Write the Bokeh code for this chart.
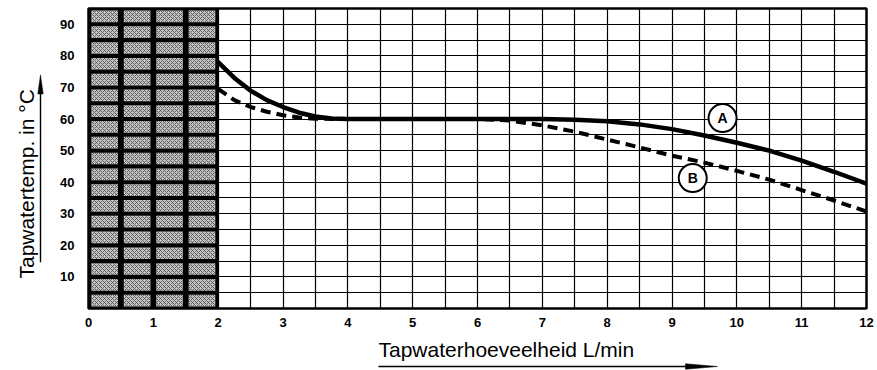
import numpy as np
from bokeh.plotting import figure
from bokeh.layouts import column, row
from bokeh.models import Range1d, FixedTicker, ColumnDataSource
from bokeh.core.properties import value
from bokeh.embed import file_html
from bokeh.resources import INLINE

# ---- data ----
x_ticks = list(range(0, 13))
y_ticks = [10, 20, 30, 40, 50, 60, 70, 80, 90]

flow_a = [2, 2.25, 2.5, 2.75, 3, 3.25, 3.5, 3.75, 4, 5, 6, 7, 7.5, 8, 8.5, 9, 9.5, 10, 10.5, 11, 11.5, 12]
temp_a = [78, 73, 69, 66, 63.8, 62, 60.8, 60.2, 60, 60, 60, 60, 59.8, 59.3, 58.3, 56.8, 54.8, 52.5, 50, 46.8, 43.3, 39.5]

flow_b = [2, 2.25, 2.5, 2.75, 3, 3.25, 3.5, 4, 5, 6, 6.5, 7, 7.5, 8, 8.5, 9, 9.5, 10, 10.5, 11, 11.5, 12]
temp_b = [69.5, 66, 63.8, 62.3, 61.2, 60.5, 60.1, 60, 60, 60, 59.5, 58, 56, 53.5, 51, 48.4, 46.2, 43.6, 40.8, 37.5, 34.2, 30.7]

curve_names = ["A", "B"]
label_x = [9.78, 9.32]
label_y = [60.3, 41.3]

shaded_max_flow = 2.0
x_title = "Tapwaterhoeveelheid L/min"
y_title = "Tapwatertemp. in °C"

FONT = "Liberation Sans"
LEFT_W, MAIN_W, MAIN_H, BOTTOM_H = 50, 827, 330, 40

# ---- main chart ----
p = figure(width=MAIN_W, height=MAIN_H, output_backend="svg", toolbar_location=None,
           x_range=Range1d(0, 12), y_range=Range1d(0, 95),
           min_border_left=38, min_border_right=11, min_border_top=8, min_border_bottom=22)
p.background_fill_color = "white"
p.border_fill_color = "white"
p.outline_line_color = "black"
p.outline_line_width = 2.5

p.xgrid.ticker = FixedTicker(ticks=list(np.arange(0, 12.01, 0.5)))
p.ygrid.ticker = FixedTicker(ticks=list(np.arange(0, 95.01, 5)))
for g in (p.xgrid, p.ygrid):
    g.grid_line_color = "black"
    g.grid_line_width = 1.2
    g.grid_line_alpha = 1.0

for ax in (p.xaxis, p.yaxis):
    ax.axis_line_color = None
    ax.major_tick_line_color = None
    ax.minor_tick_line_color = None
    ax.major_label_text_font = FONT
    ax.major_label_text_font_style = "bold"
    ax.major_label_text_font_size = "13px"
    ax.major_label_text_color = "black"
p.xaxis.ticker = FixedTicker(ticks=x_ticks)
p.yaxis.ticker = FixedTicker(ticks=y_ticks)
p.xaxis.major_label_standoff = 3
p.yaxis.major_label_standoff = 8

# shaded region
p.quad(left=0, right=shaded_max_flow, bottom=0, top=95, fill_color="black", line_color=None)
cols = np.arange(0, shaded_max_flow, 0.5)
rows = np.arange(0, 95, 5)
cx, cy = np.meshgrid(cols, rows)
cx = cx.ravel(); cy = cy.ravel()
dx, dy = 0.045, 0.65
p.quad(left=cx + dx, right=cx + 0.5 - dx, bottom=cy + dy, top=cy + 5 - dy,
       fill_color="#c4c4c4", line_color=None,
       hatch_pattern="x", hatch_color="#4a4a4a", hatch_scale=4, hatch_weight=1, hatch_alpha=0.8)

# curves
p.line(flow_a, temp_a, line_color="black", line_width=4.5, line_join="round", line_cap="round")
p.line(flow_b, temp_b, line_color="black", line_width=4, line_dash="10 6", line_join="round")

# curve labels
src = ColumnDataSource(dict(x=label_x, y=label_y, t=curve_names))
p.scatter("x", "y", source=src, size=28, fill_color="white", line_color="black", line_width=2)
p.text("x", "y", text="t", source=src, text_align="center", text_baseline="middle",
       text_font=value(FONT), text_font_style="bold", text_font_size="14px", text_color="black")


def blank(w, h):
    f = figure(width=w, height=h, output_backend="svg", toolbar_location=None,
               x_range=Range1d(0, w), y_range=Range1d(0, h),
               min_border=0, min_border_left=0, min_border_right=0,
               min_border_top=0, min_border_bottom=0)
    f.axis.visible = False
    f.grid.visible = False
    f.outline_line_color = None
    f.background_fill_color = "white"
    f.border_fill_color = "white"
    return f


# ---- left panel: y title + upward arrow (pixel coordinates, y up) ----
lf = blank(LEFT_W, MAIN_H)
lf.text(x=[25.5], y=[MAIN_H - 297], text=[y_title], angle=np.pi / 2,
        text_font=value(FONT), text_font_size="21px", text_color="black",
        text_align="left", text_baseline="middle")
lf.line(x=[40, 40], y=[MAIN_H - 279, MAIN_H - 90], line_color="black", line_width=1.4)
lf.patch(x=[37.3, 40, 42.7], y=[MAIN_H - 94, MAIN_H - 73, MAIN_H - 94], fill_color="black",
         line_color="black", line_width=0.5)

# ---- bottom panel: x title + right arrow ----
bf = blank(LEFT_W + MAIN_W, BOTTOM_H)
bf.text(x=[378], y=[BOTTOM_H - 18.5], text=[x_title],
        text_font=value(FONT), text_font_size="21px", text_color="black",
        text_align="left", text_baseline="middle")
bf.line(x=[378, 690], y=[BOTTOM_H - 36, BOTTOM_H - 36], line_color="black", line_width=1.4)
bf.patch(x=[685, 717, 685], y=[BOTTOM_H - 33.2, BOTTOM_H - 36, BOTTOM_H - 38.8], fill_color="black",
         line_color="black", line_width=0.5)

layout = column(row(lf, p, spacing=0), bf, spacing=0)
open("out.html", "w").write(file_html(layout, INLINE))
